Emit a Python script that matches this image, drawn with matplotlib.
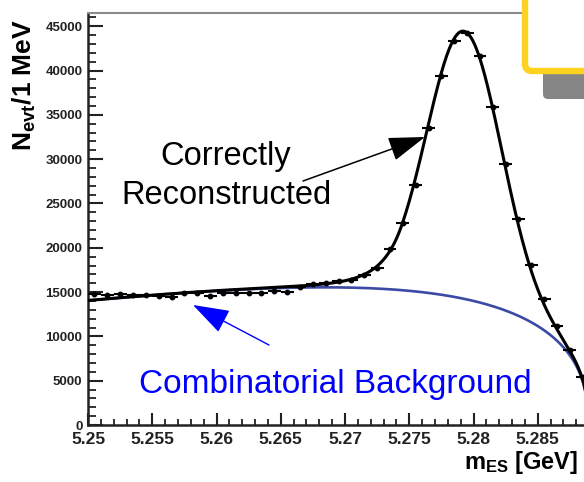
import numpy as np
import matplotlib
matplotlib.use("Agg")
import matplotlib.pyplot as plt
from matplotlib.patches import FancyBboxPatch, FancyArrowPatch
from matplotlib.transforms import IdentityTransform

plt.rcParams["font.family"] = ["Liberation Sans", "DejaVu Sans"]
plt.rcParams["mathtext.fontset"] = "custom"
plt.rcParams["mathtext.rm"] = "Liberation Sans"
plt.rcParams["mathtext.it"] = "Liberation Sans:italic"
plt.rcParams["mathtext.bf"] = "Liberation Sans:bold"

# ---- binned data: N events per 1 MeV bin of m_ES ----
bin_low = 5.250
bin_width = 0.001
counts = [14750, 14650, 14800, 14700, 14700, 14600, 14450, 14950, 14850, 14600,
          14900, 14850, 14900, 14950, 15150, 15000, 15550, 15900, 16050, 16200,
          16400, 16900, 17700, 19900, 22800, 27100, 33500, 39400, 43300, 44200,
          41600, 35900, 29500, 23200, 18100, 14200, 11200, 8500, 5400]

# ---- fit parameters ----
# generalised ARGUS background
argus_endpoint = 5.2889
argus_shape = -50.0
argus_power = 0.39
bkg_ref_mass = 5.2725
bkg_ref_level = 15400.0
# Crystal Ball signal
sig_peak = 30200.0
sig_mean = 5.27926
sig_sigma = 0.00288
cb_alpha = 1.7
cb_n = 8.0

x_ticks = [5.25, 5.255, 5.26, 5.265, 5.27, 5.275, 5.28, 5.285]
x_tick_labels = ["5.25", "5.255", "5.26", "5.265", "5.27", "5.275", "5.28", "5.285"]
y_ticks = [0, 5000, 10000, 15000, 20000, 25000, 30000, 35000, 40000, 45000]
y_tick_labels = [str(v) for v in y_ticks]


def argus_raw(m):
    z = np.clip(1.0 - (m / argus_endpoint) ** 2, 0.0, None)
    return m * z ** argus_power * np.exp(argus_shape * z)


def background(m):
    return bkg_ref_level * argus_raw(m) / argus_raw(np.array(bkg_ref_mass))


def crystal_ball(m):
    t = (m - sig_mean) / sig_sigma
    out = np.exp(-0.5 * t ** 2)
    tail = t < -cb_alpha
    out[tail] = np.exp(-0.5 * cb_alpha ** 2) * (
        1.0 + cb_alpha * (-t[tail] - cb_alpha) / cb_n) ** (-cb_n)
    return sig_peak * out


W, H = 584, 482
fig = plt.figure(figsize=(W / 100, H / 100), dpi=100)


def fx(px):
    return px / W


def fy(py):
    return 1.0 - py / H


x_min, x_max = 5.25, 5.29
px_per_gev = 12850.0
ax_left, ax_bottom_px, ax_top_px = 88, 425, 13
ax_w = (x_max - x_min) * px_per_gev
ax = fig.add_axes([fx(ax_left), fy(ax_bottom_px), ax_w / W, (ax_bottom_px - ax_top_px) / H])
ax.set_xlim(x_min, x_max)
ax.set_ylim(0, 46500)

counts_arr = np.array(counts, dtype=float)
centers = bin_low + bin_width * (np.arange(len(counts_arr)) + 0.5)

m = np.linspace(x_min, argus_endpoint, 2000)
bkg = background(m)
total = bkg + crystal_ball(m)

ax.plot(m, bkg, color="#3a4aa5", lw=1.9, zorder=2)
ax.plot(m, total, color="black", lw=2.2, zorder=3)
ax.errorbar(centers, counts_arr, xerr=bin_width / 2, yerr=np.sqrt(counts_arr),
            fmt="o", ms=3.2, color="black", ecolor="black", elinewidth=1.5,
            capsize=0, zorder=4)

# axis styling
for side in ("left", "bottom"):
    ax.spines[side].set_linewidth(1.8)
    ax.spines[side].set_color("#222222")
ax.spines["top"].set_color("#8c8c8c")
ax.spines["top"].set_linewidth(1.5)
ax.spines["right"].set_visible(False)

ax.set_xticks(x_ticks, labels=x_tick_labels, fontsize=12.5, fontweight="bold")
ax.set_xticks(np.arange(5.25, 5.2895, 0.001), minor=True)
ax.set_yticks(y_ticks, labels=y_tick_labels, fontsize=9.5, fontweight="bold")
ax.set_yticks(np.arange(0, 46500, 1000), minor=True)
ax.tick_params(axis="x", which="major", direction="in", length=8.5, width=1.5, pad=5, colors="#222222")
ax.tick_params(axis="x", which="minor", direction="in", length=4.0, width=1.3, colors="#222222")
ax.tick_params(axis="y", which="major", direction="in", length=10.5, width=1.5, pad=4, colors="#222222")
ax.tick_params(axis="y", which="minor", direction="in", length=5.5, width=1.3, colors="#222222")

# axis titles
fig.text(fx(24), fy(85), r"$\mathbf{N_{evt}/1\ MeV}$", rotation=90,
         ha="center", va="center", fontsize=19)
fig.text(fx(578), fy(463), r"$\mathbf{m_{ES}}$ [GeV]", ha="right", va="center",
         fontsize=17, fontweight="bold")

# annotations
fig.text(fx(226), fy(157), "Correctly", ha="center", va="center", fontsize=23.5, color="black")
fig.text(fx(226), fy(195), "Reconstructed", ha="center", va="center", fontsize=23.5, color="black")
fig.text(fx(335), fy(384), "Combinatorial Background", ha="center", va="center",
         fontsize=24, color="#0000ff")

arrow_black = FancyArrowPatch((303, H - 181), (425, H - 137), transform=IdentityTransform(),
                              arrowstyle="-|>,head_length=23,head_width=7.6",
                              mutation_scale=1, lw=1.1, color="black", shrinkA=0, shrinkB=0)
fig.add_artist(arrow_black)
arrow_blue = FancyArrowPatch((269, H - 345), (193, H - 305), transform=IdentityTransform(),
                             arrowstyle="-|>,head_length=23,head_width=7.8",
                             mutation_scale=1, lw=1.0, color="#0000ff", shrinkA=0, shrinkB=0)
fig.add_artist(arrow_blue)

# slide frame elements in the upper right corner
shadow = FancyBboxPatch((543, H - 99), 120, 40, boxstyle="round,pad=0,rounding_size=5",
                        transform=IdentityTransform(), fc="#858585", ec="none", zorder=5)
fig.add_artist(shadow)
frame = FancyBboxPatch((525, H - 71), 150, 120, boxstyle="round,pad=0,rounding_size=7",
                       transform=IdentityTransform(), fc="white", ec="#FFD21F", lw=4.6, zorder=6)
fig.add_artist(frame)

fig.savefig("out.png", dpi=100)
